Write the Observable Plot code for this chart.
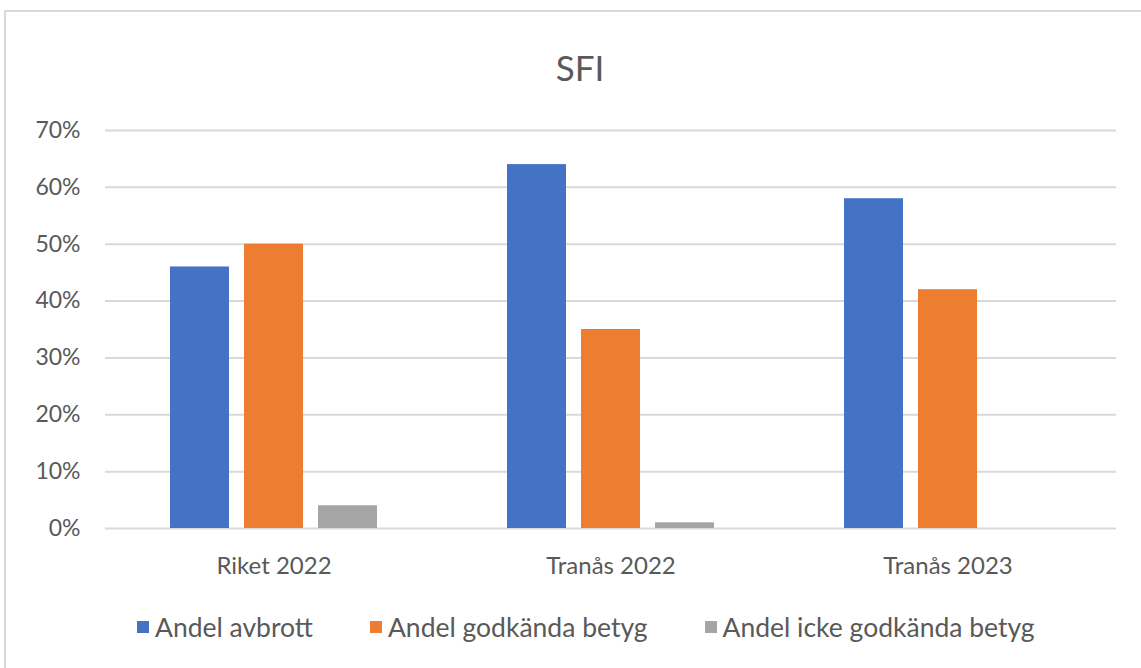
<!DOCTYPE html>
<html><head><meta charset="utf-8">
<script src="https://cdn.jsdelivr.net/npm/d3@7"></script>
<script src="https://cdn.jsdelivr.net/npm/@observablehq/plot@0.6"></script>
<style>
body{margin:0;background:#fff;font-family:Lato,"Open Sans",sans-serif;width:1141px;height:668px;overflow:hidden;position:relative;}
#frame{position:absolute;left:4px;top:10px;width:1150px;height:680px;border:2px solid #d9d9d9;box-sizing:border-box;}
#title{position:absolute;left:0;width:1160px;top:46px;text-align:center;font-size:35px;color:#595959;}
#chart{position:absolute;left:0;top:100px;}
#legend{position:absolute;top:611px;left:137px;display:flex;font-size:26.5px;color:#595959;}
#legend .item{display:flex;align-items:center;margin-right:57px;}
#legend .sw{width:12px;height:12px;margin-right:6px;}
</style></head>
<body>
<div id="frame"></div>
<div id="title">SFI</div>
<div id="chart"></div>
<div id="legend"></div>
<script>
const categories = ["Riket 2022", "Tranås 2022", "Tranås 2023"];
const series = ["Andel avbrott", "Andel godkända betyg", "Andel icke godkända betyg"];
const avbrott = [0.46, 0.64, 0.58];
const godkanda = [0.50, 0.35, 0.42];
const ickeGodkanda = [0.04, 0.01, 0.00];
const colors = ["#4472C4", "#ED7D31", "#A5A5A5"];
const yTicks = [0, 0.1, 0.2, 0.3, 0.4, 0.5, 0.6, 0.7];

const seriesValues = [avbrott, godkanda, ickeGodkanda];
const data = [];
categories.forEach((c, i) => series.forEach((s, j) => data.push({category: c, series: s, value: seriesValues[j][i]})));

const plot = Plot.plot({
  width: 1141,
  height: 500,
  marginTop: 30,
  marginBottom: 72,
  marginLeft: 105,
  marginRight: 25,
  style: {fontFamily: "Lato, 'Open Sans', sans-serif", fontSize: "24px", color: "#595959", background: "transparent"},
  fx: {domain: categories, padding: 0, label: null, axis: "bottom", tickSize: 0, tickPadding: 28},
  x: {domain: series, paddingInner: 0.2, paddingOuter: 0.877, axis: null},
  y: {domain: [0, 0.7], ticks: yTicks, tickFormat: d3.format(".0%"), label: null},
  color: {domain: series, range: colors},
  marks: [
    Plot.gridY(yTicks, {stroke: "#d9d9d9", strokeOpacity: 1, strokeWidth: 2}),
    Plot.axisY(yTicks, {tickSize: 0, tickPadding: 25, tickFormat: d3.format(".0%"), label: null, fontSize: 23}),
    Plot.barY(data, {fx: "category", x: "series", y: "value", fill: "series"})
  ]
});
document.getElementById("chart").appendChild(plot);

const leg = document.getElementById("legend");
series.forEach((s, j) => {
  const it = document.createElement("div"); it.className = "item";
  const sw = document.createElement("div"); sw.className = "sw"; sw.style.background = colors[j];
  const tx = document.createElement("span"); tx.textContent = s;
  it.appendChild(sw); it.appendChild(tx); leg.appendChild(it);
});
</script>
</body></html>
